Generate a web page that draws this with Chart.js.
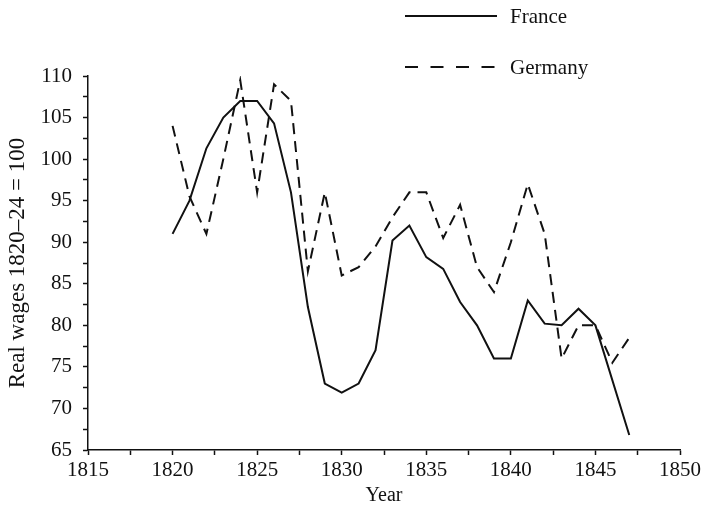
<!DOCTYPE html>
<html>
<head>
<meta charset="utf-8">
<title>Real wages, France and Germany</title>
<script src="https://cdn.jsdelivr.net/npm/chart.js@4.4.1/dist/chart.umd.min.js"></script>
<style>
  body { margin: 0; background: #fff; }
  #wrap { position: relative; width: 705px; height: 509px; }
  #legend { position: absolute; left: 405px; top: 4px; font-family: "Liberation Serif", serif; font-size: 21px; color: #111; }
  .item { display: flex; align-items: center; height: 24px; margin-bottom: 27px; }
  .item svg { margin-right: 13px; }
</style>
</head>
<body>
<div id="wrap">
  <canvas id="wageChart" width="705" height="509"></canvas>
  <div id="legend"></div>
</div>
<script>
const years = [1820, 1821, 1822, 1823, 1824, 1825, 1826, 1827, 1828, 1829,
  1830, 1831, 1832, 1833, 1834, 1835, 1836, 1837, 1838, 1839,
  1840, 1841, 1842, 1843, 1844, 1845, 1846, 1847];
// France has no reading for 1846, the line runs straight from 1845 to 1847
const franceWages = [91, 95, 101.3, 105, 107, 107, 104.3, 96, 82.2, 73,
  71.9, 73, 77, 90.2, 92, 88.2, 86.8, 82.8, 80, 76,
  76, 83, 80.2, 80, 82, 80, null, 66.8];
const germanyWages = [104, 95.5, 91, 100, 109.5, 96, 109, 107, 86.5, 96,
  86, 87, 89.5, 93, 96, 96, 90.5, 94.5, 87, 84,
  90, 97, 91, 76, 80, 80, 75.5, 78.5];
const yearLabels = [1815, 1820, 1825, 1830, 1835, 1840, 1845, 1850];
const wageLabels = [65, 70, 75, 80, 85, 90, 95, 100, 105, 110];

const ink = '#111';
const canvas = document.getElementById('wageChart');
const legend = document.getElementById('legend');

Chart.defaults.font.family = '"Liberation Serif", "Times New Roman", serif';
Chart.defaults.color = ink;

function toPoints(values) {
  return years.map((year, i) => ({ x: year, y: values[i] }));
}

const wageChart = new Chart(canvas, {
  type: 'line',
  data: {
    datasets: [{
      label: 'France',
      data: toPoints(franceWages),
      borderColor: ink,
      borderWidth: 2,
      pointRadius: 0,
      tension: 0,
      spanGaps: true,
      fill: false
    }, {
      label: 'Germany',
      data: toPoints(germanyWages),
      borderColor: ink,
      borderWidth: 2,
      borderDash: [11, 7],
      pointRadius: 0,
      tension: 0,
      fill: false
    }]
  },
  options: {
    responsive: false,
    animation: false,
    layout: { padding: { top: 76, right: 25, left: 0, bottom: 0 } },
    plugins: {
      legend: { display: false },
      tooltip: { enabled: false }
    },
    scales: {
      x: {
        type: 'linear',
        min: 1815,
        max: 1850,
        afterFit: scale => { scale.height = 59; },
        ticks: {
          stepSize: 2.5,
          autoSkip: false,
          maxRotation: 0,
          padding: 3,
          font: { size: 21 },
          callback: value => yearLabels.includes(value) ? String(value) : ''
        },
        grid: { drawOnChartArea: false, tickLength: 5, tickColor: ink, tickWidth: 1.5 },
        border: { color: ink, width: 1.5 },
        title: { display: true, text: 'Year', font: { size: 20 }, padding: { top: 0, bottom: 1 } }
      },
      y: {
        min: 65,
        max: 110,
        afterFit: scale => { scale.width = 88; },
        ticks: {
          stepSize: 2.5,
          autoSkip: false,
          padding: 11,
          font: { size: 21 },
          callback: value => wageLabels.includes(value) ? String(value) : ''
        },
        grid: { drawOnChartArea: false, tickLength: 5, tickColor: ink, tickWidth: 1.5 },
        border: { color: ink, width: 1.5 },
        title: { display: true, text: 'Real wages 1820–24 = 100', font: { size: 23 }, padding: { top: 4, bottom: 0 } }
      }
    }
  }
});

function displayLegend(chart) {
  legend.innerHTML = chart.data.datasets.map(set => `
    <div class="item">
      <svg width="92" height="4"><line x1="0" y1="2" x2="92" y2="2" stroke="${set.borderColor}" stroke-width="2" stroke-dasharray="${set.borderDash ? '13 12.5' : 'none'}"/></svg>
      <span>${set.label}</span>
    </div>
  `).join('');
}

displayLegend(wageChart);
</script>
</body>
</html>
